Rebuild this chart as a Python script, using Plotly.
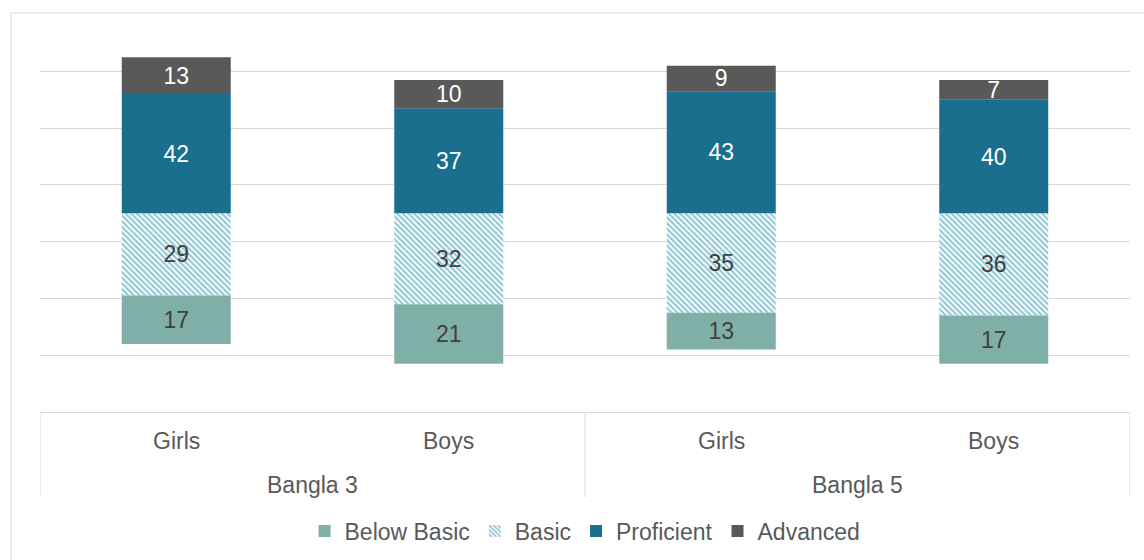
import plotly.graph_objects as go

groups = ["Bangla 3", "Bangla 3", "Bangla 5", "Bangla 5"]
genders = ["Girls", "Boys", "Girls", "Boys"]
below_basic = [17, 21, 13, 17]
basic = [29, 32, 35, 36]
proficient = [42, 37, 43, 40]
advanced = [13, 10, 9, 7]

x = [groups, genders]
FONT = "Liberation Sans, Arial, sans-serif"
GRID = "#D9D9D9"
TXT = "#595959"
FS = 23

PLOT_L, PLOT_R, PLOT_T, PLOT_B = 40, 1130, 43, 412
PH = PLOT_B - PLOT_T
PW = PLOT_R - PLOT_L


def py(pix):
    return (PLOT_B - pix) / PH


def px(pix):
    return (pix - PLOT_L) / PW


fig = go.Figure()

fig.add_trace(go.Bar(
    name="Basic", x=x, y=[-v for v in basic], text=basic, legendrank=2,
    marker=dict(color="#ffffff", line=dict(width=0),
                pattern=dict(shape="\\", fgcolor="#8AC5D4", bgcolor="#ffffff",
                             size=4, solidity=0.5, fillmode="replace")),
    textfont=dict(color="#404040")))
fig.add_trace(go.Bar(
    name="Below Basic", x=x, y=[-v for v in below_basic], text=below_basic, legendrank=1,
    marker=dict(color="#7FAFA6", line=dict(width=0)),
    textfont=dict(color="#404040")))
fig.add_trace(go.Bar(
    name="Proficient", x=x, y=proficient, text=proficient, legendrank=3,
    marker=dict(color="#1A6F8E", line=dict(width=0)),
    textfont=dict(color="#ffffff")))
fig.add_trace(go.Bar(
    name="Advanced", x=x, y=advanced, text=advanced, legendrank=4,
    marker=dict(color="#595959", line=dict(width=0)),
    textfont=dict(color="#ffffff")))

fig.update_traces(textposition="inside", insidetextanchor="middle", textangle=0,
                  hoverinfo="skip")

annotations = []
for i, g in enumerate(genders):
    annotations.append(dict(x=i, xref="x", y=py(441), yref="paper", text=g,
                            showarrow=False, xanchor="center", yanchor="middle",
                            font=dict(size=FS, color=TXT)))
unique_groups = []
for g in groups:
    if g not in unique_groups:
        unique_groups.append(g)
for gname in unique_groups:
    idx = [i for i, g in enumerate(groups) if g == gname]
    annotations.append(dict(x=(idx[0] + idx[-1]) / 2, xref="x", y=py(485), yref="paper",
                            text=gname, showarrow=False, xanchor="center",
                            yanchor="middle", font=dict(size=FS, color=TXT)))

shapes = [dict(type="rect", xref="paper", yref="paper",
               x0=px(11), x1=px(1170), y0=py(590), y1=py(13),
               line=dict(color=GRID, width=1), fillcolor="rgba(0,0,0,0)", layer="below")]
bounds = [-0.5]
for i in range(1, len(groups)):
    if groups[i] != groups[i - 1]:
        bounds.append(i - 0.5)
bounds.append(len(groups) - 0.5)
for b in bounds:
    shapes.append(dict(type="line", xref="x", yref="paper", x0=b, x1=b,
                       y0=py(412), y1=py(497), line=dict(color=GRID, width=1)))

fig.update_layout(
    width=1144, height=560,
    barmode="relative", bargap=0.6,
    plot_bgcolor="#ffffff", paper_bgcolor="#ffffff",
    margin=dict(l=PLOT_L, r=1144 - PLOT_R, t=PLOT_T, b=560 - PLOT_B, autoexpand=False),
    font=dict(family=FONT, size=FS, color=TXT),
    uniformtext=dict(minsize=FS, mode="show"),
    showlegend=True,
    legend=dict(orientation="h", x=0.5, xanchor="center", y=py(531), yanchor="middle",
                font=dict(size=FS, color=TXT), itemwidth=30, tracegroupgap=0,
                traceorder="normal", bgcolor="rgba(0,0,0,0)"),
    xaxis=dict(type="multicategory", showline=True, linecolor=GRID, linewidth=1,
               showdividers=False, showticklabels=False, ticks="", showgrid=False,
               range=[-0.5, 3.5]),
    yaxis=dict(range=[-70, 60], tickvals=[-50, -30, -10, 10, 30, 50],
               showticklabels=False, showgrid=True, gridcolor=GRID,
               gridwidth=1, zeroline=False, showline=False, fixedrange=True),
    annotations=annotations,
    shapes=shapes,
)

fig.write_html("out.html", config={"displayModeBar": False},
               post_script="document.body.style.margin='0';")
